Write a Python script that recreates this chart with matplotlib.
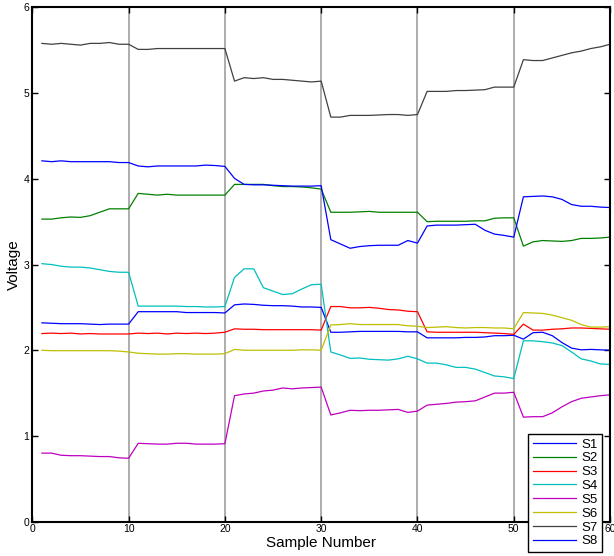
import numpy as np
from matplotlib import pyplot as plt

plt.rcParams['font.family'] = ['Liberation Sans', 'DejaVu Sans']

# %% data
sample = list(range(1, 61))

s1 = [2.32, 2.315, 2.31, 2.31, 2.31, 2.305, 2.30, 2.305, 2.305, 2.305,
      2.45, 2.45, 2.45, 2.45, 2.45, 2.44, 2.44, 2.44, 2.44, 2.435,
      2.53, 2.54, 2.535, 2.525, 2.52, 2.52, 2.515, 2.505, 2.505, 2.50,
      2.21, 2.21, 2.215, 2.22, 2.22, 2.22, 2.22, 2.22, 2.215, 2.215,
      2.145, 2.145, 2.145, 2.145, 2.15, 2.15, 2.155, 2.17, 2.17, 2.175,
      2.13, 2.205, 2.21, 2.17, 2.09, 2.025, 2.005, 2.01, 2.005, 2.00]
s2 = [3.53, 3.53, 3.545, 3.555, 3.55, 3.57, 3.61, 3.65, 3.65, 3.65,
      3.83, 3.82, 3.81, 3.82, 3.81, 3.81, 3.81, 3.81, 3.81, 3.81,
      3.935, 3.935, 3.935, 3.935, 3.92, 3.91, 3.91, 3.905, 3.895, 3.88,
      3.61, 3.61, 3.61, 3.615, 3.62, 3.61, 3.61, 3.61, 3.61, 3.61,
      3.50, 3.505, 3.505, 3.505, 3.505, 3.51, 3.51, 3.54, 3.545, 3.545,
      3.215, 3.265, 3.28, 3.275, 3.27, 3.28, 3.305, 3.305, 3.31, 3.32]
s3 = [2.195, 2.20, 2.195, 2.20, 2.19, 2.195, 2.19, 2.19, 2.19, 2.19,
      2.20, 2.195, 2.20, 2.19, 2.20, 2.195, 2.20, 2.195, 2.20, 2.21,
      2.25, 2.245, 2.245, 2.24, 2.24, 2.24, 2.24, 2.24, 2.24, 2.235,
      2.51, 2.51, 2.495, 2.495, 2.50, 2.49, 2.475, 2.47, 2.455, 2.45,
      2.215, 2.21, 2.21, 2.21, 2.21, 2.21, 2.205, 2.20, 2.195, 2.185,
      2.305, 2.235, 2.235, 2.245, 2.25, 2.26, 2.26, 2.255, 2.25, 2.245]
s4 = [3.01, 3.00, 2.98, 2.97, 2.97, 2.96, 2.94, 2.92, 2.91, 2.91,
      2.515, 2.515, 2.515, 2.515, 2.515, 2.51, 2.51, 2.505, 2.505, 2.51,
      2.85, 2.95, 2.95, 2.73, 2.69, 2.65, 2.66, 2.715, 2.765, 2.77,
      1.98, 1.945, 1.905, 1.91, 1.895, 1.89, 1.885, 1.90, 1.93, 1.90,
      1.85, 1.85, 1.83, 1.80, 1.80, 1.78, 1.74, 1.70, 1.69, 1.67,
      2.11, 2.11, 2.10, 2.085, 2.055, 1.98, 1.90, 1.875, 1.84, 1.835]
s5 = [0.80, 0.80, 0.775, 0.77, 0.77, 0.765, 0.76, 0.76, 0.745, 0.74,
      0.915, 0.91, 0.905, 0.905, 0.915, 0.915, 0.905, 0.905, 0.905, 0.91,
      1.47, 1.49, 1.50, 1.525, 1.535, 1.56, 1.55, 1.56, 1.565, 1.57,
      1.245, 1.27, 1.30, 1.295, 1.30, 1.30, 1.305, 1.31, 1.275, 1.29,
      1.36, 1.37, 1.38, 1.395, 1.40, 1.41, 1.455, 1.50, 1.50, 1.51,
      1.22, 1.225, 1.225, 1.27, 1.34, 1.40, 1.44, 1.455, 1.47, 1.48]
s6 = [2.00, 1.995, 1.995, 1.995, 1.995, 1.995, 1.995, 1.995, 1.99, 1.98,
      1.965, 1.96, 1.955, 1.955, 1.96, 1.96, 1.955, 1.955, 1.955, 1.96,
      2.01, 2.00, 2.00, 2.00, 2.00, 2.00, 2.00, 2.005, 2.005, 2.00,
      2.295, 2.30, 2.31, 2.30, 2.30, 2.30, 2.30, 2.30, 2.285, 2.28,
      2.265, 2.27, 2.275, 2.265, 2.26, 2.265, 2.265, 2.26, 2.26, 2.25,
      2.44, 2.435, 2.43, 2.41, 2.38, 2.35, 2.30, 2.27, 2.27, 2.275]
s7 = [5.58, 5.57, 5.58, 5.57, 5.56, 5.58, 5.58, 5.59, 5.57, 5.57,
      5.51, 5.51, 5.52, 5.52, 5.52, 5.52, 5.52, 5.52, 5.52, 5.52,
      5.14, 5.18, 5.17, 5.18, 5.16, 5.16, 5.15, 5.14, 5.13, 5.14,
      4.72, 4.72, 4.74, 4.74, 4.74, 4.745, 4.75, 4.75, 4.74, 4.75,
      5.02, 5.02, 5.02, 5.03, 5.03, 5.035, 5.04, 5.07, 5.07, 5.07,
      5.39, 5.38, 5.38, 5.41, 5.44, 5.47, 5.49, 5.52, 5.54, 5.57]
s8 = [4.21, 4.20, 4.21, 4.20, 4.20, 4.20, 4.20, 4.20, 4.19, 4.19,
      4.15, 4.14, 4.15, 4.15, 4.15, 4.15, 4.15, 4.16, 4.155, 4.145,
      4.005, 3.935, 3.93, 3.93, 3.925, 3.92, 3.915, 3.915, 3.915, 3.92,
      3.29, 3.24, 3.19, 3.21, 3.22, 3.225, 3.225, 3.225, 3.28, 3.25,
      3.45, 3.46, 3.46, 3.46, 3.465, 3.47, 3.40, 3.355, 3.34, 3.32,
      3.79, 3.795, 3.80, 3.79, 3.76, 3.70, 3.68, 3.68, 3.67, 3.665]

series = [s1, s2, s3, s4, s5, s6, s7, s8]
labels = ['S1', 'S2', 'S3', 'S4', 'S5', 'S6', 'S7', 'S8']
colors = ['#0000ff', '#008000', '#ff0000', '#00bfbf',
          '#bf00bf', '#bfbf00', '#404040', '#0000ff']
dividers = [10, 20, 30, 40, 50]

# %% plot
fig = plt.figure(figsize=(6.14, 5.56), dpi=100)
ax = fig.add_axes([0.0526, 0.0617, 0.941, 0.925])

for x in dividers:
    ax.axvline(x, color='#a0a0a0', lw=1.2, zorder=1)

for y, lab, c in zip(series, labels, colors):
    ax.plot(sample, y, color=c, lw=0.9, label=lab, zorder=2)

ax.set_xlim(0, 60)
ax.set_ylim(0, 6)
ax.set_xticks(range(0, 61, 10))
ax.set_yticks(range(0, 7))
ax.tick_params(direction='in', top=True, right=True, length=4, width=1,
               labelsize=7.5, pad=2)
for sp in ax.spines.values():
    sp.set_linewidth(1.5)

ax.set_xlabel('Sample Number', fontsize=11, labelpad=1)
ax.set_ylabel('Voltage', fontsize=11, labelpad=2)

# legend sits over the bottom-right corner, partly below the axes
leg = ax.legend(loc='lower right', bbox_to_anchor=(0.9805, 0.0072),
                bbox_transform=fig.transFigure, borderaxespad=0,
                fontsize=9.5, handlelength=3.3, labelspacing=0.12,
                handletextpad=0.36, borderpad=0.35, fancybox=False,
                framealpha=1, edgecolor='black')
leg.get_frame().set_linewidth(1.0)
leg.set_zorder(5)

fig.savefig('out.png', dpi=100)
